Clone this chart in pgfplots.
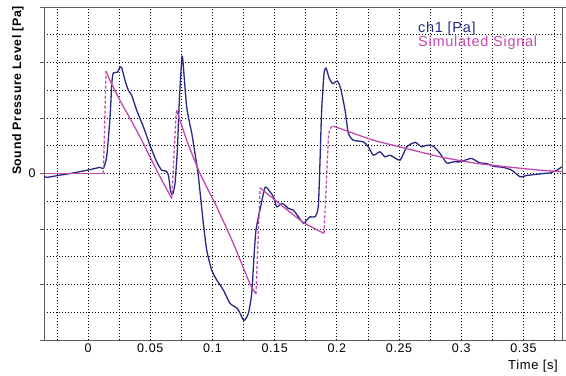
\documentclass[border=0pt]{standalone}
\usepackage{pgfplots}
\pgfplotsset{compat=1.18}
\usepackage{fontspec}
\setmainfont{Liberation Sans}[LetterSpace=5]
\definecolor{chblue}{RGB}{40,40,130}
\definecolor{simmag}{RGB}{196,72,176}
\definecolor{axgray}{RGB}{90,90,90}
\begin{document}
\begin{tikzpicture}
\begin{axis}[
  name=ax,
  scale only axis,
  width=518pt, height=333pt,
  xmin=-0.0354, xmax=0.381,
  ymin=-6, ymax=6,
  axis line style={axgray, line width=0.8pt},
  xtick={0,0.05,0.1,0.15,0.2,0.25,0.3,0.35},
  xticklabels={0,0.05,0.1,0.15,0.2,0.25,0.3,0.35},
  minor xtick={-0.025,0.025,0.075,0.125,0.175,0.225,0.275,0.325,0.375},
  ytick={-6,-4,-2,0,2,4,6},
  yticklabels={,,,0,,,},
  minor ytick={-5,-3,-1,1,3,5},
  grid=both,
  major grid style={black, line width=0.7pt, dash pattern=on 1.2pt off 1.8pt},
  minor grid style={black, line width=0.7pt, dash pattern=on 1.2pt off 1.8pt},
  xtick style={draw=none},
  minor tick length=0pt,
  ytick style={axgray, line width=0.8pt},
  ytick align=outside, major tick length=4pt,
  tick label style={font=\fontsize{12.5}{13}\selectfont},
  yticklabel style={xshift=-1pt},
  xlabel={Time [s]},
  xlabel style={at={(axis description cs:0.9923,-0.078)}, anchor=east, inner sep=0pt, font=\fontsize{13}{13}\selectfont},
  ylabel={Sound Pressure Level [Pa]},
  ylabel style={at={(axis description cs:-0.0502,1.003)}, anchor=east, inner sep=0pt, font=\bfseries\fontsize{12.3}{13}\selectfont},
  legend style={at={(axis description cs:0.721,0.955)}, anchor=north west, draw=none, fill=none,
    inner sep=0pt, row sep=0pt, font=\fontsize{14.5}{14.5}\selectfont,
    nodes={inner sep=0.5pt, text height=10pt, text depth=2.5pt, anchor=west}},
  legend cell align=left,
  legend image code/.code={},
]
% ch1 measured signal
\addplot[chblue, line width=1.3pt, smooth, tension=0.35] coordinates {
(-0.0354,-0.10) (-0.0332,-0.14) (-0.0225,-0.06) (-0.0118,0.02) (0.0016,0.14)
(0.0096,0.22) (0.0123,0.18) (0.0150,0.60) (0.0177,2.04) (0.0191,3.24)
(0.0203,3.62) (0.0236,3.65) (0.0257,3.83) (0.0271,3.81) (0.0297,3.36)
(0.0324,3.00) (0.0351,2.82) (0.0391,2.28) (0.0445,1.68) (0.0498,1.02)
(0.0552,0.42) (0.0592,0.12) (0.0627,0.09) (0.0646,-0.06) (0.0665,-0.66)
(0.0681,-0.74) (0.0699,-0.36) (0.0718,0.84) (0.0734,2.64) (0.0753,4.08)
(0.0761,4.14) (0.0793,2.40) (0.0834,1.44) (0.0860,0.72) (0.0887,-0.10)
(0.0927,-1.80) (0.0954,-2.76) (0.0994,-3.48) (0.1035,-3.84) (0.1088,-4.20)
(0.1141,-4.68) (0.1200,-4.86) (0.1222,-5.04) (0.1254,-5.30) (0.1289,-5.04)
(0.1316,-4.32) (0.1334,-3.00) (0.1350,-2.04) (0.1383,-1.30) (0.1423,-0.50)
(0.1463,-0.66) (0.1490,-0.84) (0.1517,-1.20) (0.1557,-1.08) (0.1584,-1.14)
(0.1610,-1.26) (0.1650,-1.32) (0.1691,-1.56) (0.1731,-1.80) (0.1758,-1.68)
(0.1785,-1.56) (0.1825,-1.56) (0.1851,-1.20) (0.1865,0.48) (0.1878,2.28)
(0.1897,3.60) (0.1913,3.80) (0.1940,3.42) (0.1967,3.24) (0.2004,3.33)
(0.2031,3.06) (0.2066,2.28) (0.2093,1.44) (0.2133,1.20) (0.2213,1.14)
(0.2253,0.96) (0.2293,0.66) (0.2347,0.78) (0.2387,0.60) (0.2428,0.66)
(0.2508,0.48) (0.2562,0.96) (0.2629,1.12) (0.2682,0.96) (0.2723,1.02)
(0.2776,0.98) (0.2830,0.72) (0.2883,0.38) (0.2937,0.42) (0.2990,0.42)
(0.3031,0.48) (0.3084,0.54) (0.3151,0.38) (0.3205,0.36) (0.3258,0.26)
(0.3338,0.22) (0.3406,0.12) (0.3473,-0.12) (0.3526,-0.07) (0.3607,-0.03)
(0.3660,0.00) (0.3714,0.02) (0.3768,0.12) (0.3808,0.24)
};
\addlegendentry{\textcolor{chblue}{ch1 [Pa]}}
% simulated signal: decays (solid)
\addplot[simmag, line width=1.3pt] coordinates {(-0.0354,0) (0.0123,0)};
\addlegendentry{\textcolor{simmag}{Simulated Signal}}
\addplot[simmag, line width=1.3pt, smooth, tension=0.3, forget plot] coordinates {
(0.0145,3.69) (0.0177,3.35) (0.0257,2.63) (0.0338,1.98) (0.0418,1.32)
(0.0498,0.60) (0.0579,-0.12) (0.0673,-0.90)};
\addplot[simmag, line width=1.3pt, smooth, tension=0.3, forget plot] coordinates {
(0.0712,2.28) (0.0793,1.20) (0.0900,0.00) (0.1034,-1.20) (0.1168,-2.52)
(0.1300,-3.96) (0.1350,-4.34)};
\addplot[simmag, line width=1.3pt, smooth, tension=0.3, forget plot] coordinates {
(0.1383,-0.52) (0.1570,-1.20) (0.1730,-1.76) (0.1897,-2.16)};
\addplot[simmag, line width=1.3pt, smooth, tension=0.3, forget plot] coordinates {
(0.1967,1.71) (0.2026,1.62) (0.2293,1.20) (0.2560,0.90) (0.2830,0.60)
(0.3100,0.38) (0.3366,0.24) (0.3630,0.12) (0.3810,0.07)};
% simulated signal: rises (dashed)
\addplot[simmag, line width=1.3pt, dash pattern=on 3pt off 2pt, forget plot] coordinates {
(0.0123,0) (0.0145,3.69)};
\addplot[simmag, line width=1.3pt, dash pattern=on 3pt off 2pt, forget plot] coordinates {
(0.0673,-0.90) (0.0707,2.10) (0.0712,2.28)};
\addplot[simmag, line width=1.3pt, dash pattern=on 3pt off 2pt, forget plot] coordinates {
(0.1350,-4.34) (0.1383,-0.52)};
\addplot[simmag, line width=1.3pt, dash pattern=on 3pt off 2pt, forget plot, smooth, tension=0.3] coordinates {
(0.1897,-2.16) (0.1932,1.20) (0.1945,1.60) (0.1967,1.71)};
\end{axis}
\pgfresetboundingbox
\path ([xshift=-44pt,yshift=-36pt]ax.south west) rectangle ([xshift=4pt,yshift=7pt]ax.north east);
\end{tikzpicture}
\end{document}
